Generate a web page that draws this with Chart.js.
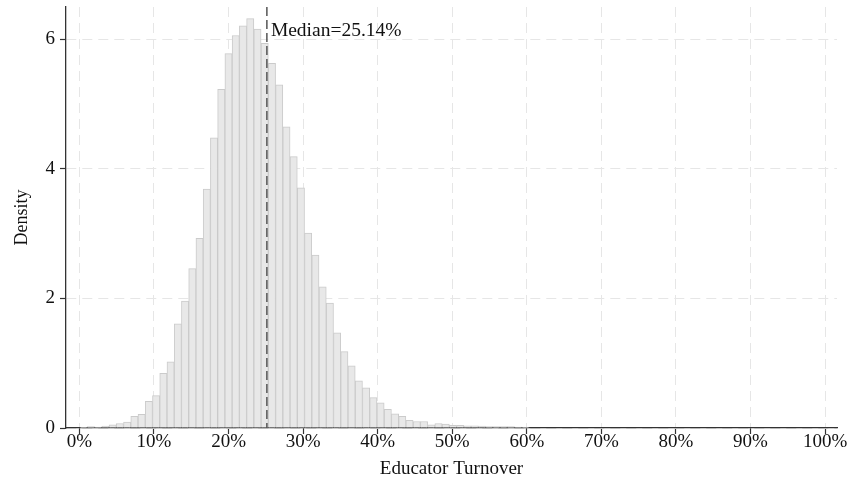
<!DOCTYPE html>
<html>
<head>
<meta charset="utf-8">
<script src="https://cdn.jsdelivr.net/npm/chart.js@4.4.0/dist/chart.umd.min.js"></script>
<style>
  html, body { margin: 0; padding: 0; background: #fff; }
  #wrap { width: 852px; height: 488px; }
</style>
</head>
<body>
<div id="wrap"><canvas id="histChart" width="852" height="488"></canvas></div>
<script>
// histogram bins (percent): first left edge and width
const binStart = 0.09;
const binWidth = 0.971;

// density per bin
const density = [
  0.005, 0.02, 0.015, 0.03, 0.05, 0.07, 0.09, 0.18, 0.21, 0.41,
  0.50, 0.845, 1.02, 1.61, 1.96, 2.46, 2.93, 3.69, 4.48, 5.23,
  5.78, 6.06, 6.21, 6.32, 6.16, 5.94, 5.63, 5.30, 4.65, 4.19,
  3.71, 3.01, 2.67, 2.18, 1.93, 1.47, 1.18, 0.96, 0.73, 0.62,
  0.47, 0.39, 0.29, 0.22, 0.18, 0.12, 0.10, 0.10, 0.05, 0.07,
  0.06, 0.04, 0.04, 0.035, 0.035, 0.03, 0.02, 0.02, 0.02, 0.02,
  0.015, 0.005
];

const xTicks = [0, 10, 20, 30, 40, 50, 60, 70, 80, 90, 100];
const yTicks = [0, 2, 4, 6];
const median = 25.14;

const points = density.map((d, i) => ({ x: binStart + (i + 0.5) * binWidth, y: d }));

const serif = "'Liberation Serif', 'Times New Roman', serif";

// dashed median line + label
const medianLine = {
  id: 'medianLine',
  afterDatasetsDraw(chart) {
    const ctx = chart.ctx;
    const area = chart.chartArea;
    const x = chart.scales.x.getPixelForValue(median);
    ctx.save();
    ctx.strokeStyle = '#555';
    ctx.lineWidth = 1.5;
    ctx.setLineDash([9, 4]);
    ctx.beginPath();
    ctx.moveTo(x, area.top);
    ctx.lineTo(x, area.bottom);
    ctx.stroke();
    ctx.setLineDash([]);
    ctx.fillStyle = '#111';
    ctx.font = '19.5px ' + serif;
    ctx.textBaseline = 'alphabetic';
    ctx.fillText('Median=' + median.toFixed(2) + '%', x + 4, 36);
    ctx.restore();
  }
};

new Chart(document.getElementById('histChart'), {
  type: 'bar',
  data: {
    datasets: [{
      data: points,
      backgroundColor: '#e8e8e8',
      borderColor: '#cbcbcb',
      borderWidth: 1,
      barPercentage: 1,
      categoryPercentage: 1
    }]
  },
  options: {
    responsive: false,
    animation: false,
    layout: { padding: { top: 7, right: 15, left: 0, bottom: 0 } },
    plugins: {
      legend: { display: false },
      tooltip: { enabled: false }
    },
    scales: {
      x: {
        type: 'linear',
        min: -1.8,
        max: 101.6,
        offset: false,
        afterFit: s => { s.height = 60; s.paddingLeft = 0; s.paddingRight = 0; },
        afterBuildTicks: s => { s.ticks = xTicks.map(v => ({ value: v })); },
        ticks: {
          callback: v => v + '%',
          color: '#111',
          font: { family: serif, size: 19 },
          padding: -3,
          maxRotation: 0,
          autoSkip: false
        },
        grid: {
          offset: false,
          color: '#e6e6e6',
          lineWidth: 1,
          tickColor: '#333',
          tickWidth: 1.2,
          tickLength: 6,
          tickBorderDash: []
        },
        border: { display: true, color: '#333', width: 1.3, dash: [10, 6] },
        title: {
          display: true,
          text: 'Educator Turnover',
          color: '#111',
          font: { family: serif, size: 19 },
          padding: { top: 0, bottom: 8 }
        }
      },
      y: {
        min: 0,
        max: 6.5,
        afterFit: s => { s.width = 66; s.paddingTop = 0; s.paddingBottom = 0; },
        afterBuildTicks: s => { s.ticks = yTicks.map(v => ({ value: v })); },
        ticks: {
          color: '#111',
          font: { family: serif, size: 19 },
          padding: 5
        },
        grid: {
          color: '#e6e6e6',
          lineWidth: 1,
          tickColor: '#333',
          tickWidth: 1.2,
          tickLength: 6,
          tickBorderDash: []
        },
        border: { display: true, color: '#333', width: 1.3, dash: [10, 6] },
        title: {
          display: true,
          text: 'Density',
          color: '#111',
          font: { family: serif, size: 18 },
          padding: { top: 11, bottom: 0 }
        }
      }
    }
  },
  plugins: [medianLine]
});
</script>
</body>
</html>
